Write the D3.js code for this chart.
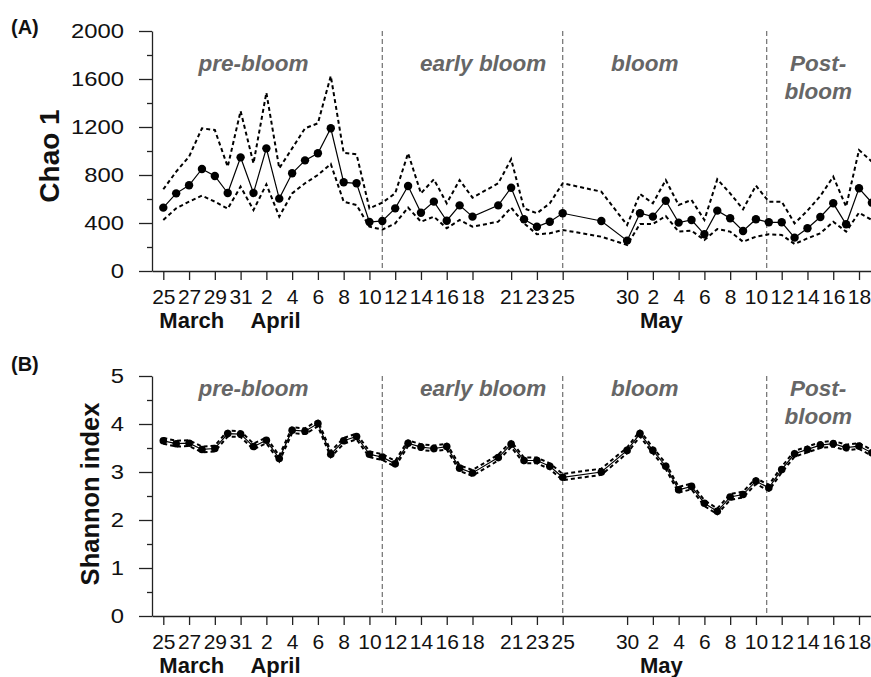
<!DOCTYPE html>
<html>
<head>
<meta charset="utf-8">
<script src="https://cdn.jsdelivr.net/npm/d3@7"></script>
<style>
  body { margin: 0; background: #fff; }
  svg { display: block; font-family: "Liberation Sans", Arial, sans-serif; }
</style>
</head>
<body>
<svg id="chart" width="871" height="677"></svg>
<script>
// sampling dates
const dates = [
  "2019-03-25","2019-03-26","2019-03-27","2019-03-28","2019-03-29","2019-03-30","2019-03-31",
  "2019-04-01","2019-04-02","2019-04-03","2019-04-04","2019-04-05","2019-04-06","2019-04-07",
  "2019-04-08","2019-04-09","2019-04-10","2019-04-11","2019-04-12","2019-04-13","2019-04-14",
  "2019-04-15","2019-04-16","2019-04-17","2019-04-18","2019-04-20","2019-04-21","2019-04-22",
  "2019-04-23","2019-04-24","2019-04-25","2019-04-28","2019-04-30","2019-05-01","2019-05-02",
  "2019-05-03","2019-05-04","2019-05-05","2019-05-06","2019-05-07","2019-05-08","2019-05-09",
  "2019-05-10","2019-05-11","2019-05-12","2019-05-13","2019-05-14","2019-05-15","2019-05-16",
  "2019-05-17","2019-05-18","2019-05-19"
];

const chaoMean = [528, 647, 714, 850, 792, 650, 947, 650, 1022, 603, 814, 922, 981, 1189, 739, 731, 408, 417,
  522, 708, 486, 578, 419, 547, 453, 547, 694, 431, 369, 411, 481, 417, 253, 481, 453, 586, 403, 425, 306,
  503, 439, 333, 431, 406, 406, 278, 356, 450, 564, 389, 689, 569];
const chaoUpper = [681, 828, 953, 1189, 1175, 869, 1333, 897, 1486, 856, 1022, 1189, 1231, 1625, 986, 972, 522, 570,
  647, 981, 647, 764, 564, 758, 611, 731, 931, 522, 481, 564, 731, 661, 383, 642, 564, 758, 550, 592, 425,
  764, 647, 514, 711, 578, 578, 397, 503, 625, 786, 536, 1008, 911];
const chaoLower = [425, 522, 578, 628, 578, 519, 703, 508, 722, 453, 647, 731, 800, 892, 578, 550, 369, 345,
  397, 528, 411, 453, 356, 425, 369, 411, 528, 397, 306, 314, 342, 286, 217, 392, 392, 458, 328, 336, 258,
  350, 328, 244, 286, 306, 300, 225, 272, 314, 411, 328, 486, 425];

const shanMean = [3.65, 3.59, 3.60, 3.47, 3.49, 3.80, 3.79, 3.53, 3.66, 3.28, 3.87, 3.85, 4.01, 3.37, 3.65, 3.74, 3.37, 3.31,
  3.17, 3.60, 3.52, 3.49, 3.53, 3.08, 2.98, 3.30, 3.58, 3.24, 3.24, 3.12, 2.89, 3.00, 3.45, 3.80, 3.45, 3.12, 2.63, 2.70,
  2.35, 2.18, 2.48, 2.53, 2.81, 2.67, 3.05, 3.38, 3.47, 3.56, 3.59, 3.51, 3.54, 3.40];
const shanUpper = [3.71, 3.65, 3.66, 3.53, 3.55, 3.86, 3.85, 3.59, 3.72, 3.34, 3.93, 3.91, 4.07, 3.43, 3.71, 3.80, 3.43, 3.37,
  3.23, 3.66, 3.58, 3.55, 3.59, 3.14, 3.04, 3.36, 3.64, 3.30, 3.30, 3.18, 2.96, 3.07, 3.51, 3.86, 3.51, 3.18, 2.69, 2.76,
  2.41, 2.24, 2.54, 2.59, 2.87, 2.73, 3.11, 3.44, 3.53, 3.62, 3.65, 3.57, 3.60, 3.46];
const shanLower = [3.59, 3.53, 3.54, 3.41, 3.43, 3.74, 3.73, 3.47, 3.60, 3.22, 3.81, 3.79, 3.95, 3.31, 3.59, 3.68, 3.31, 3.25,
  3.11, 3.54, 3.46, 3.43, 3.47, 3.02, 2.92, 3.24, 3.52, 3.18, 3.18, 3.06, 2.83, 2.94, 3.39, 3.74, 3.39, 3.06, 2.57, 2.64,
  2.29, 2.12, 2.42, 2.47, 2.75, 2.61, 2.99, 3.32, 3.41, 3.50, 3.53, 3.45, 3.48, 3.34];

// x tick dates (labels are day of month)
const tickDates = ["2019-03-25","2019-03-27","2019-03-29","2019-03-31","2019-04-02","2019-04-04","2019-04-06",
  "2019-04-08","2019-04-10","2019-04-12","2019-04-14","2019-04-16","2019-04-18","2019-04-21","2019-04-23",
  "2019-04-25","2019-04-30","2019-05-02","2019-05-04","2019-05-06","2019-05-08","2019-05-10","2019-05-12",
  "2019-05-14","2019-05-16","2019-05-18"];

const months = ["March", "April", "May"];
const monthCenters = ["2019-03-27T05:00Z", "2019-04-02T17:00Z", "2019-05-02T16:00Z"];

const phaseBreaks = ["2019-04-11T00:00Z", "2019-04-25T00:00Z", "2019-05-10T20:00Z"];
const phaseNames = [["pre-bloom"], ["early bloom"], ["bloom"], ["Post-", "bloom"]];
const phaseCenters = ["2019-04-01T00:00Z", "2019-04-18T20:00Z", "2019-05-01T09:00Z", "2019-05-14T20:00Z"];

const chaoTicks = [0, 400, 800, 1200, 1600, 2000];
const chaoMinor = [200, 600, 1000, 1400, 1800];
const shanTicks = [0, 1, 2, 3, 4, 5];
const shanMinor = [0.5, 1.5, 2.5, 3.5, 4.5];

const parse = d3.isoParse;
const svg = d3.select("#chart");

const x = d3.scaleUtc()
    .domain([parse("2019-03-25"), parse("2019-05-18")])
    .range([163.3, 859]);
const xLine = x.copy().domain([x.invert(152), x.invert(890)]).range([152, 890]);

function panel(cfg) {
    const y = d3.scaleLinear().domain(cfg.domain).range([cfg.bottom, cfg.top]);
    const g = svg.append("g");

    // phase separators
    g.selectAll(".phase")
        .data(phaseBreaks)
        .enter().append("line")
        .attr("x1", d => x(parse(d)))
        .attr("x2", d => x(parse(d)))
        .attr("y1", cfg.top)
        .attr("y2", cfg.bottom)
        .attr("stroke", "#7a7a7a")
        .attr("stroke-width", 1.3)
        .attr("stroke-dasharray", "5,3");

    // phase labels
    phaseNames.forEach((lines, i) => {
        lines.forEach((t, j) => {
            g.append("text")
                .attr("x", x(parse(phaseCenters[i])))
                .attr("y", cfg.phaseY + j * 28)
                .attr("text-anchor", "middle")
                .attr("font-size", 22.5)
                .attr("font-weight", "bold")
                .attr("font-style", "italic")
                .attr("fill", "#666")
                .text(t);
        });
    });

    // x axis
    const xa = g.append("g")
        .attr("transform", `translate(0,${cfg.bottom})`)
        .call(d3.axisBottom(xLine)
            .tickValues(tickDates.map(d => parse(d)))
            .tickFormat(d3.utcFormat("%-d"))
            .tickSize(9)
            .tickSizeOuter(0)
            .tickPadding(9))
        .attr("font-family", null)
        .attr("font-size", null);
    xa.selectAll("text").attr("font-size", 21).attr("fill", "#111");
    xa.selectAll("line, path").attr("stroke", "#222").attr("stroke-width", 1.3);

    months.forEach((m, i) => {
        g.append("text")
            .attr("x", x(parse(monthCenters[i])))
            .attr("y", cfg.bottom + 57)
            .attr("text-anchor", "middle")
            .attr("font-size", 22)
            .attr("font-weight", "bold")
            .attr("fill", "#111")
            .text(m);
    });

    // y axis
    const ya = g.append("g")
        .attr("transform", "translate(152,0)")
        .call(d3.axisLeft(y).tickValues(cfg.ticks).tickFormat(d3.format("d"))
            .tickSize(13).tickSizeOuter(0).tickPadding(15))
        .attr("font-family", null)
        .attr("font-size", null);
    ya.selectAll("text")
        .attr("font-size", 20)
        .attr("fill", "#111")
        .attr("x", -28 / 1.19)
        .attr("transform", "scale(1.19,1)");
    ya.selectAll("line, path").attr("stroke", "#222").attr("stroke-width", 1.3);

    g.append("g")
        .attr("transform", "translate(152,0)")
        .call(d3.axisLeft(y).tickValues(cfg.minor).tickSize(5).tickFormat(""))
        .call(a => a.select(".domain").remove())
        .selectAll("line").attr("stroke", "#222").attr("stroke-width", 1.3);

    g.append("text")
        .attr("transform", `translate(${cfg.labelX},${cfg.labelY}) rotate(-90)`)
        .attr("text-anchor", "middle")
        .attr("font-size", cfg.labelSize)
        .attr("font-weight", "bold")
        .attr("fill", "#111")
        .text(cfg.label);

    g.append("text")
        .attr("x", 11)
        .attr("y", cfg.top + cfg.tagDy)
        .attr("font-size", 20)
        .attr("font-weight", "bold")
        .attr("fill", "#111")
        .text(cfg.tag);

    const pts = dates.map((d, i) => ({t: parse(d), m: cfg.mean[i], u: cfg.upper[i], l: cfg.lower[i]}));

    for (const k of ["u", "l"]) {
        g.append("path")
            .datum(pts)
            .attr("fill", "none")
            .attr("stroke", "#000")
            .attr("stroke-width", 2)
            .attr("stroke-dasharray", "4,3")
            .attr("d", d3.line().x(d => x(d.t)).y(d => y(d[k])));
    }

    g.append("path")
        .datum(pts)
        .attr("fill", "none")
        .attr("stroke", "#000")
        .attr("stroke-width", 1.2)
        .attr("d", d3.line().x(d => x(d.t)).y(d => y(d.m)));

    g.selectAll(".dot")
        .data(pts)
        .enter().append("circle")
        .attr("cx", d => x(d.t))
        .attr("cy", d => y(d.m))
        .attr("r", cfg.r)
        .attr("fill", "#000");
}

panel({
    domain: [0, 2000], top: 31, bottom: 271,
    ticks: chaoTicks, minor: chaoMinor,
    mean: chaoMean, upper: chaoUpper, lower: chaoLower,
    label: "Chao 1", labelX: 59, labelY: 156, labelSize: 28,
    tag: "(A)", tagDy: 3, phaseY: 71, r: 4.2
});

panel({
    domain: [0, 5], top: 376, bottom: 616,
    ticks: shanTicks, minor: shanMinor,
    mean: shanMean, upper: shanUpper, lower: shanLower,
    label: "Shannon index", labelX: 99, labelY: 494, labelSize: 25.5,
    tag: "(B)", tagDy: -5, phaseY: 396, r: 3.8
});
</script>
</body>
</html>
